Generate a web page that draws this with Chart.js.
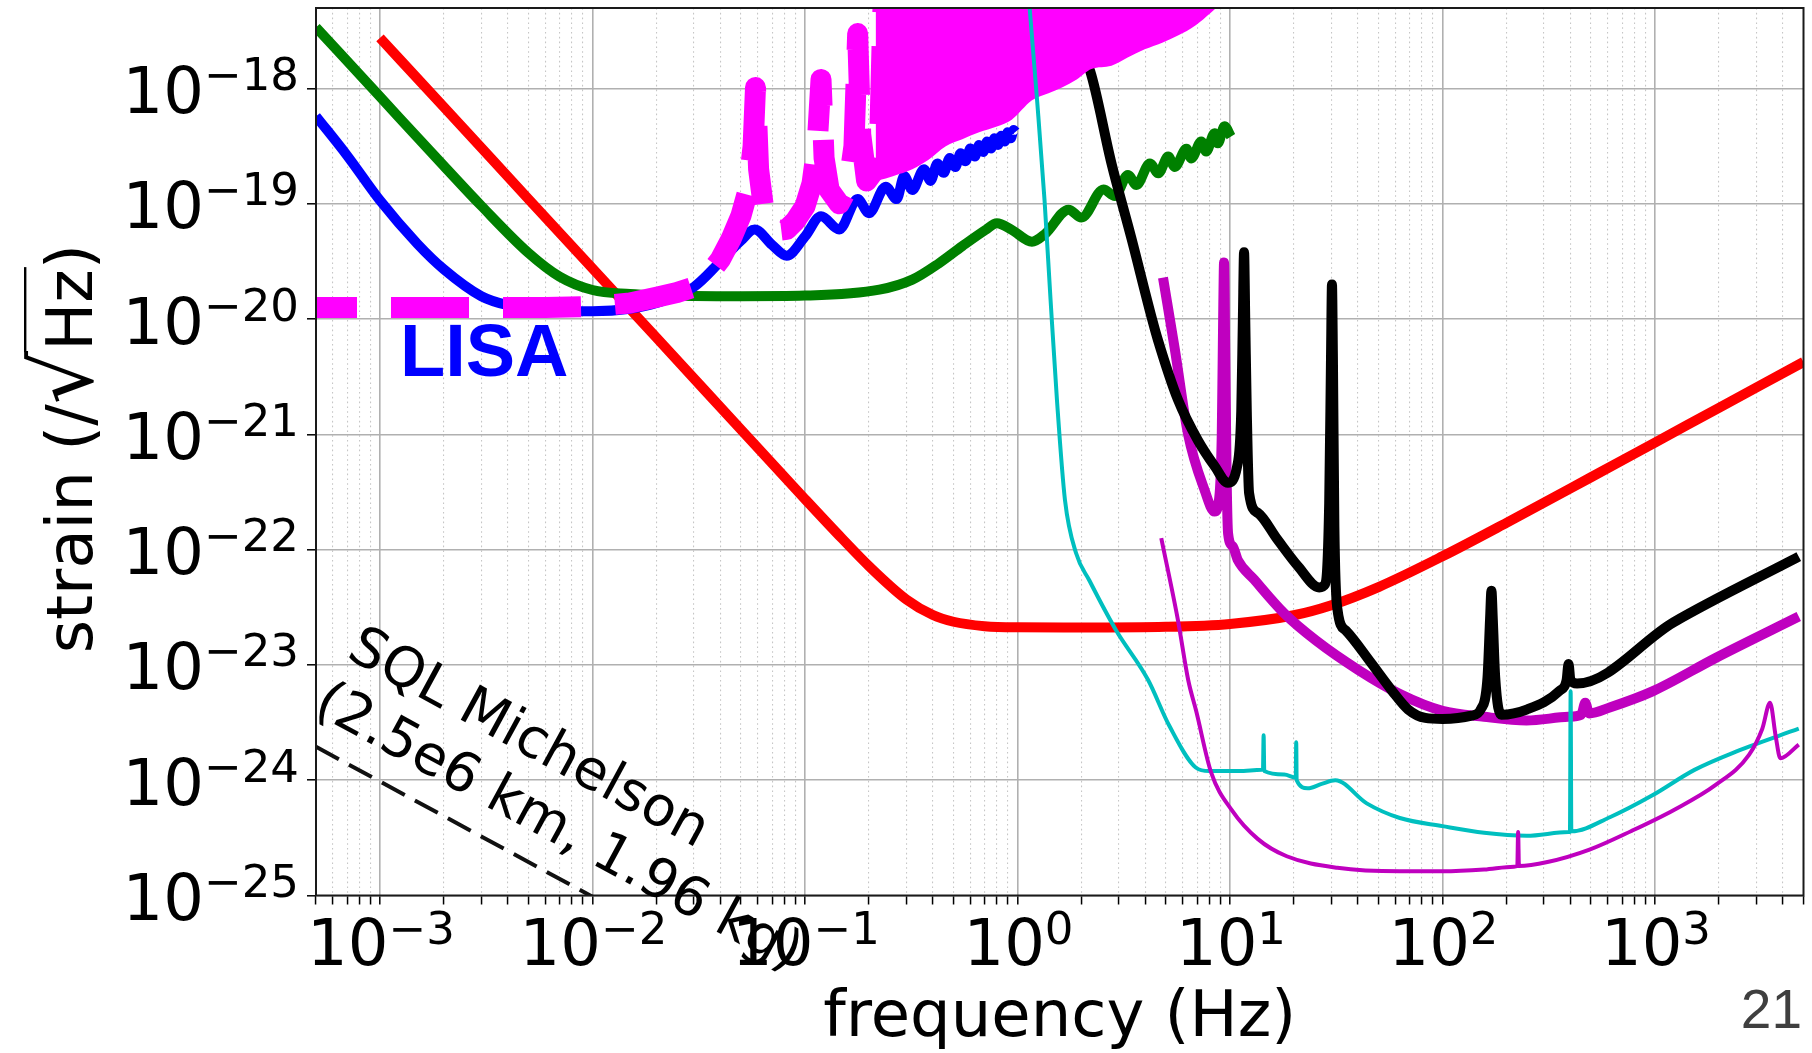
<!DOCTYPE html>
<html>
<head>
<meta charset="utf-8">
<title>strain sensitivity</title>
<script src="https://cdn.jsdelivr.net/npm/chart.js@4.4.1/dist/chart.umd.min.js"></script>
<style>
  html, body { margin: 0; padding: 0; background: #fff; }
  #wrap { width: 1812px; height: 1053px; }
</style>
</head>
<body>
<div id="wrap"><canvas id="sens" width="1812" height="1053"></canvas></div>
<script>
// frequency in Hz, strain in 1/sqrt(Hz)

// tick labels (powers of ten)
const xTickExps = [-3, -2, -1, 0, 1, 2, 3];
const yTickExps = [-25, -24, -23, -22, -21, -20, -19, -18];
const minorSteps = [1, 2, 3, 4, 5, 6, 7, 8, 9];
const xDecades = [-4, -3, -2, -1, 0, 1, 2, 3];

// red (thick)
const redF = [0.001, 0.002, 0.005, 0.01, 0.02, 0.05, 0.1, 0.15, 0.2, 0.3, 0.4, 0.5, 0.7, 1, 2, 5, 10, 20, 30, 50, 100, 200, 500, 1000, 2000, 5000];
const redH = [2.75e-18, 6.9e-19, 1.1e-19, 2.75e-20, 6.9e-21, 1.1e-21, 2.75e-22, 1.24e-22, 7.2e-23, 3.7e-23, 2.71e-23, 2.37e-23, 2.17e-23, 2.12e-23, 2.11e-23, 2.14e-23, 2.27e-23, 2.7e-23, 3.3e-23, 4.74e-23, 8.76e-23, 1.71e-22, 4.25e-22, 8.5e-22, 1.7e-21, 4.25e-21];

// green (thick)
const greenF = [0.0005, 0.001, 0.002, 0.003, 0.005, 0.007, 0.01, 0.015, 0.02, 0.05, 0.1, 0.224, 0.32, 0.427, 0.55, 0.708, 0.8, 0.94, 1.17, 1.35, 1.74, 2.0, 2.54, 2.87, 3.31, 3.63, 4.2, 4.6, 5.12, 5.5, 6.24, 6.58, 7.33, 7.73, 8.46, 8.77, 9.42, 10.1];
const greenH = [3.4e-18, 8.5e-19, 2.13e-19, 9.6e-20, 3.75e-20, 2.34e-20, 1.79e-20, 1.65e-20, 1.61e-20, 1.58e-20, 1.6e-20, 1.8e-20, 2.2e-20, 3.05e-20, 4.3e-20, 5.95e-20, 6.8e-20, 5.95e-20, 4.7e-20, 5.5e-20, 8.9e-20, 7.6e-20, 1.33e-19, 1.17e-19, 1.78e-19, 1.46e-19, 2.24e-19, 1.84e-19, 2.57e-19, 2.09e-19, 3.0e-19, 2.48e-19, 3.47e-19, 2.84e-19, 4.1e-19, 3.35e-19, 4.7e-19, 3.83e-19];

// blue (thick)
const blueF = [0.0005, 0.0007, 0.001, 0.0015, 0.002, 0.003, 0.004, 0.006, 0.01, 0.015, 0.02, 0.03, 0.04, 0.05, 0.058, 0.07, 0.082, 0.1, 0.119, 0.145, 0.177, 0.2, 0.24, 0.27, 0.293, 0.32, 0.363, 0.39, 0.42, 0.45, 0.48, 0.51, 0.54, 0.57, 0.6, 0.63, 0.66, 0.69, 0.72, 0.75, 0.78, 0.81, 0.84, 0.87, 0.9, 0.93, 0.96, 0.977];
const blueH = [5.75e-19, 2.63e-19, 1.07e-19, 4.5e-20, 2.7e-20, 1.58e-20, 1.32e-20, 1.2e-20, 1.17e-20, 1.23e-20, 1.38e-20, 1.9e-20, 3.16e-20, 4.8e-20, 6.0e-20, 4.4e-20, 3.55e-20, 5.2e-20, 7.8e-20, 6.0e-20, 1.1e-19, 8.3e-20, 1.41e-19, 1.1e-19, 1.74e-19, 1.32e-19, 2.0e-19, 1.58e-19, 2.24e-19, 1.86e-19, 2.5e-19, 2.09e-19, 2.75e-19, 2.34e-19, 3.02e-19, 2.57e-19, 3.24e-19, 2.82e-19, 3.47e-19, 3.02e-19, 3.7e-19, 3.24e-19, 3.9e-19, 3.47e-19, 4.17e-19, 3.7e-19, 4.37e-19, 4.2e-19];

// magenta dashed (LISA) with its first spikes
const lisaF = [0.0005, 0.001, 0.003, 0.006, 0.01, 0.015, 0.02, 0.025, 0.03, 0.035, 0.04, 0.045, 0.05, 0.054, 0.057, 0.0585, 0.0605, 0.064, 0.07, 0.076, 0.082, 0.09, 0.1, 0.108, 0.114, 0.119, 0.123, 0.13, 0.145, 0.16, 0.17, 0.177, 0.183, 0.195, 0.21, 0.225, 0.235];
const lisaH = [1.26e-20, 1.26e-20, 1.26e-20, 1.26e-20, 1.29e-20, 1.38e-20, 1.55e-20, 1.7e-20, 1.9e-20, 2.4e-20, 3.3e-20, 5.0e-20, 7.9e-20, 1.32e-19, 3.16e-19, 1.02e-18, 2.0e-19, 8.9e-20, 6.6e-20, 5.9e-20, 6.0e-20, 7.1e-20, 9.5e-20, 1.51e-19, 3.16e-19, 1.2e-18, 2.5e-19, 1.32e-19, 1.0e-19, 1.41e-19, 3.16e-19, 3.0e-18, 4.0e-19, 1.58e-19, 1.9e-19, 4.0e-19, 1e-17];
// lower edge of the dense magenta spike forest
const bandF = [0.215, 0.24, 0.28, 0.32, 0.38, 0.46, 0.55, 0.66, 0.8, 0.94, 1.17, 1.4, 1.62, 1.9, 2.23, 2.77, 3.3, 3.97, 4.8, 5.69, 6.9, 8.15, 9.2];
const bandH = [1.58e-19, 1.66e-19, 1.82e-19, 2.0e-19, 2.4e-19, 3.16e-19, 3.63e-19, 4.17e-19, 4.68e-19, 5.37e-19, 7.9e-19, 9.1e-19, 1.02e-18, 1.2e-18, 1.48e-18, 1.58e-18, 1.86e-18, 2.19e-18, 2.5e-18, 2.88e-18, 3.55e-18, 4.57e-18, 5.6e-18];

// black (thick)
const blackF = [2.12, 2.2, 2.77, 3.44, 4.27, 4.58, 5.69, 7.06, 8.5, 9.77, 10.8, 11.3, 11.5, 11.65, 11.8, 12.0, 12.3, 13.5, 16.7, 21, 26.3, 28.0, 29.3, 29.9, 30.2, 30.5, 31.0, 32, 35, 46, 57.8, 69, 83, 100, 137, 152, 163, 167.5, 170, 172.5, 177, 189, 249, 357, 384, 392, 400, 430, 1222, 4750];
const blackH = [1.62e-18, 1.41e-18, 2.24e-19, 5.0e-20, 1.05e-20, 6.6e-21, 2.0e-21, 8.9e-22, 5.25e-22, 3.8e-22, 5.25e-22, 1.58e-21, 1.0e-20, 3.8e-20, 1.0e-20, 1.58e-21, 3.1e-22, 2.09e-22, 1.23e-22, 7.1e-23, 4.7e-23, 5.0e-23, 2.5e-22, 5.0e-21, 2.0e-20, 5.0e-21, 1.58e-22, 3.1e-23, 2.0e-23, 1.05e-23, 6.0e-24, 4.1e-24, 3.47e-24, 3.4e-24, 3.63e-24, 4.17e-24, 7.9e-24, 2.5e-23, 4.4e-23, 2.5e-23, 7.9e-24, 3.7e-24, 4.1e-24, 6.0e-24, 7.4e-24, 1.02e-23, 7.4e-24, 6.9e-24, 2.34e-23, 8.7e-23];

// purple (thick)
const purpleF = [4.84, 5.5, 6.34, 7.59, 8.46, 8.9, 9.15, 9.3, 9.38, 9.5, 9.65, 9.8, 10.3, 10.9, 13.0, 18, 25.5, 40, 63, 100, 157, 249, 391, 450, 470, 490, 617, 973, 1930, 4750];
const purpleH = [2.29e-20, 5.5e-21, 1.02e-21, 3.3e-22, 2.14e-22, 2.8e-22, 1.0e-21, 1.26e-20, 3.1e-20, 5.0e-21, 4.0e-22, 1.38e-22, 1.07e-22, 8.1e-23, 5.5e-23, 2.8e-23, 1.62e-23, 9.1e-24, 5.6e-24, 4.0e-24, 3.55e-24, 3.3e-24, 3.55e-24, 3.7e-24, 4.7e-24, 3.8e-24, 4.3e-24, 5.9e-24, 1.15e-23, 2.63e-23];

// purple (thin)
const thinF = [4.75, 5.69, 6.36, 6.93, 8.15, 10.2, 13.5, 18.5, 32, 63, 100, 157, 217, 225, 227, 229, 312, 492, 775, 1222, 1930, 2770, 3200, 3480, 3700, 3890, 4750];
const thinH = [1.26e-22, 2.45e-23, 7.4e-24, 4.0e-24, 1.17e-24, 5.5e-25, 3.1e-25, 2.19e-25, 1.74e-25, 1.62e-25, 1.62e-25, 1.68e-25, 1.78e-25, 1.8e-25, 3.55e-25, 1.8e-25, 1.95e-25, 2.5e-25, 3.63e-25, 5.5e-25, 9.1e-25, 1.66e-24, 2.8e-24, 4.7e-24, 2.4e-24, 1.55e-24, 2.04e-24];

// cyan (thin)
const cyanF = [1.093, 1.141, 1.237, 1.341, 1.431, 1.535, 1.673, 1.888, 2.18, 2.91, 4.12, 5.19, 6.9, 8.0, 11, 14.1, 14.3, 14.4, 14.5, 18, 20.4, 20.5, 20.6, 23.2, 27, 31.3, 44, 63, 100, 157, 249, 391, 398, 401, 404, 617, 973, 1534, 2423, 4750];
const cyanH = [1.3e-17, 5.0e-18, 7.9e-19, 1.07e-19, 1.48e-20, 1.95e-21, 2.7e-22, 9.3e-23, 5.4e-23, 2.0e-23, 7.4e-24, 2.95e-24, 1.29e-24, 1.2e-24, 1.2e-24, 1.23e-24, 1.23e-24, 2.45e-24, 1.2e-24, 1.12e-24, 1.05e-24, 2.14e-24, 1.0e-24, 8.5e-25, 9.3e-25, 1.0e-24, 6.3e-25, 4.7e-25, 4.0e-25, 3.5e-25, 3.3e-25, 3.55e-25, 3.55e-25, 5.9e-24, 3.6e-25, 4.8e-25, 7.4e-25, 1.23e-24, 1.78e-24, 2.8e-24];

// SQL of a Michelson (black dashed)
const sqlF = [0.0005, 0.01];
const sqlH = [1.95e-24, 9.75e-26];

const BASE_FONT = '64px "DejaVu Sans"';
const SUP_FONT = '45px "DejaVu Sans"';

function series(fs, hs) {
  return fs.map((f, i) => ({ x: f, y: hs[i] }));
}

function curve(label, fs, hs, color, width, order, extra) {
  return Object.assign({
    label: label,
    data: series(fs, hs),
    borderColor: color,
    backgroundColor: color,
    borderWidth: width,
    pointRadius: 0,
    fill: false,
    order: order,
    clip: 0,
    cubicInterpolationMode: 'monotone',
    borderJoinStyle: 'round',
    borderCapStyle: 'butt'
  }, extra || {});
}

const isDecade = (v) => Math.abs(Math.log10(v) - Math.round(Math.log10(v))) < 1e-6;

// x ticks: every 1..9 x 10^n inside the range
const xTickValues = [];
xDecades.forEach((e) => {
  minorSteps.forEach((m) => {
    const v = m * Math.pow(10, e);
    if (v >= 5e-4 * 0.999 && v <= 5e3 * 1.001) xTickValues.push(v);
  });
});

const expText = (e) => (e < 0 ? '\u2212' : '') + Math.abs(e);

// labels, titles, frame and notes
const textPlugin = {
  id: 'sensTexts',
  afterDraw(chart) {
    const { ctx, chartArea: area, scales } = chart;
    const xs = scales.x;
    const ys = scales.y;
    ctx.save();

    // frame
    ctx.strokeStyle = '#1a1a1a';
    ctx.lineWidth = 2;
    ctx.strokeRect(area.left, area.top, area.right - area.left, area.bottom - area.top);

    ctx.fillStyle = '#000';
    ctx.textBaseline = 'alphabetic';
    ctx.textAlign = 'left';

    // x tick labels
    xTickExps.forEach((e) => {
      const px = xs.getPixelForValue(Math.pow(10, e));
      ctx.font = BASE_FONT;
      const w10 = ctx.measureText('10').width;
      ctx.font = SUP_FONT;
      const we = ctx.measureText(expText(e)).width;
      const x0 = px - (w10 + we) / 2 + 1;
      ctx.font = BASE_FONT;
      ctx.fillText('10', x0, area.bottom + 69.5);
      ctx.font = SUP_FONT;
      ctx.fillText(expText(e), x0 + w10, area.bottom + 48);
    });

    // y tick labels
    yTickExps.forEach((e) => {
      const py = ys.getPixelForValue(Math.pow(10, e));
      ctx.font = BASE_FONT;
      const w10 = ctx.measureText('10').width;
      ctx.font = SUP_FONT;
      const we = ctx.measureText(expText(e)).width;
      const x0 = area.left - 17 - w10 - we;
      ctx.font = BASE_FONT;
      ctx.fillText('10', x0, py + 24.5);
      ctx.font = SUP_FONT;
      ctx.fillText(expText(e), x0 + w10, py + 1.5);
    });

    // x title
    ctx.font = '64px "DejaVu Sans"';
    ctx.textAlign = 'center';
    ctx.fillText('frequency (Hz)', (area.left + area.right) / 2, 1036);

    // y title with a square root bar over Hz
    ctx.save();
    ctx.translate(92, (area.top + area.bottom) / 2 - 3);
    ctx.rotate(-Math.PI / 2);
    ctx.textAlign = 'left';
    const partA = 'strain (/';
    const partB = '\u221A';
    const partC = 'Hz';
    const partD = ')';
    ctx.font = BASE_FONT;
    const wa = ctx.measureText(partA).width;
    const wc = ctx.measureText(partC).width;
    const wd = ctx.measureText(partD).width;
    const asc0 = ctx.measureText(partB).actualBoundingBoxAscent || 50;
    const radSize = Math.min(100, Math.max(64, 64 * 68 / asc0));
    const radFont = radSize + 'px "DejaVu Sans"';
    ctx.font = radFont;
    const mb = ctx.measureText(partB);
    const wb = mb.width;
    let cx = -(wa + wb + wc + wd) / 2;
    ctx.font = BASE_FONT;
    ctx.fillText(partA, cx, 0);
    cx += wa;
    ctx.font = radFont;
    ctx.fillText(partB, cx, 0);
    const barX0 = cx + mb.actualBoundingBoxRight - 2;
    const barY = -mb.actualBoundingBoxAscent + 1.2;
    cx += wb;
    ctx.font = BASE_FONT;
    ctx.fillText(partC, cx, 0);
    const barX1 = cx + wc + 2;
    cx += wc;
    ctx.fillText(partD, cx, 0);
    ctx.strokeStyle = '#000';
    ctx.lineWidth = 2.4;
    ctx.beginPath();
    ctx.moveTo(barX0, barY);
    ctx.lineTo(barX1, barY);
    ctx.stroke();
    ctx.restore();

    // LISA tag
    ctx.font = 'bold 74px "Liberation Sans"';
    ctx.fillStyle = '#0000ff';
    ctx.textAlign = 'left';
    ctx.fillText('LISA', 400, 375.5);

    // SQL note, tilted along the dashed line
    ctx.save();
    ctx.translate(345, 657);
    ctx.rotate(28.5 * Math.PI / 180);
    ctx.fillStyle = '#000';
    ctx.font = '55px "DejaVu Sans"';
    ctx.fillText('SQL Michelson', 0, 0);
    ctx.fillText('(2.5e6 km, 1.96 kg)', -3, 64);
    ctx.restore();

    // slide number
    ctx.font = '55px "Liberation Sans"';
    ctx.fillStyle = '#3f3f3f';
    ctx.textAlign = 'right';
    ctx.fillText('21', 1802, 1028);

    ctx.restore();
  }
};

const datasets = [
  curve('SQL Michelson', sqlF, sqlH, '#111111', 4, 10, { borderDash: [26, 11.5], cubicInterpolationMode: 'default', tension: 0 }),
  curve('red', redF, redH, '#ff0000', 10, 9),
  curve('green', greenF, greenH, '#008000', 10, 8),
  curve('blue', blueF, blueH, '#0000ff', 10, 7),
  curve('purple', purpleF, purpleH, '#bf00bf', 10, 6),
  curve('black', blackF, blackH, '#000000', 10, 5),
  curve('LISA band', bandF, bandH, '#ff00ff', 0, 4, { fill: 'end', backgroundColor: '#ff00ff', borderColor: 'rgba(0,0,0,0)' }),
  curve('LISA', lisaF, lisaH, '#ff00ff', 21, 3, { borderDash: [78, 34], borderDashOffset: 37, cubicInterpolationMode: 'default', tension: 0 }),
  curve('cyan', cyanF, cyanH, '#00bfbf', 4, 2),
  curve('purple thin', thinF, thinH, '#bf00bf', 4, 1)
];

new Chart(document.getElementById('sens'), {
  type: 'line',
  data: { datasets: datasets },
  options: {
    responsive: false,
    animation: false,
    devicePixelRatio: 1,
    events: [],
    layout: { padding: { top: 8, right: 8.5, left: 0, bottom: 0 } },
    plugins: {
      legend: { display: false },
      tooltip: { enabled: false }
    },
    scales: {
      x: {
        type: 'logarithmic',
        min: 5e-4,
        max: 5e3,
        afterBuildTicks: (scale) => {
          scale.ticks = xTickValues.map((v) => ({ value: v, major: isDecade(v) }));
        },
        afterFit: (scale) => { scale.height = 157.5; },
        ticks: { display: false, autoSkip: false },
        grid: {
          color: (c) => (c.tick && c.tick.major ? '#b0b0b0' : '#c6c6c6'),
          lineWidth: (c) => (c.tick && c.tick.major ? 1.6 : 1.1),
          drawTicks: true,
          tickLength: 9,
          tickColor: '#000',
          tickWidth: 1.5
        },
        border: {
          display: false,
          dash: (c) => (c.tick && !c.tick.major ? [1.6, 3.2] : [])
        }
      },
      y: {
        type: 'logarithmic',
        min: 1e-25,
        max: 5e-18,
        afterBuildTicks: (scale) => {
          scale.ticks = yTickExps.map((e) => ({ value: Math.pow(10, e), major: true }));
        },
        afterFit: (scale) => { scale.width = 316; },
        ticks: { display: false, autoSkip: false },
        grid: {
          color: '#b0b0b0',
          lineWidth: 1.6,
          drawTicks: true,
          tickLength: 9,
          tickColor: '#000',
          tickWidth: 1.5
        },
        border: { display: false }
      }
    }
  },
  plugins: [textPlugin]
});
</script>
</body>
</html>
